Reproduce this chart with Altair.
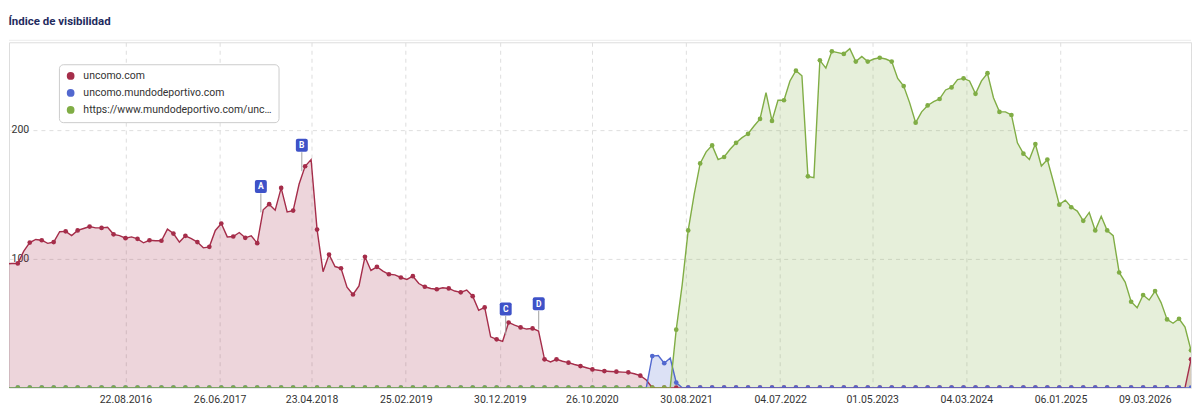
import altair as alt
import pandas as pd

# ---------------- data ----------------
series_names = ["uncomo.com", "uncomo.mundodeportivo.com", "https://www.mundodeportivo.com/uncomo/"]
line_colors = ["#a52d4a", "#5268cf", "#80ad45"]

# sampling dates (evenly spaced readings, every second one carries a marker)
dates = pd.date_range("2015-07-08", "2026-03-09", periods=200)

red_values = [
    86, 96, 96.4, 96.4, 106, 112.6, 115, 114.4, 112, 113,
    121, 121.3, 118, 122, 123.5, 125, 124, 124, 124.5, 119,
    118, 116, 117, 115.5, 112.4, 114.4, 114, 114, 123, 119.6,
    113, 117.8, 115.7, 113, 108.5, 109.3, 122, 127.4, 117, 117.3,
    120.4, 116.3, 117.8, 112.1, 138, 142.4, 137.7, 155, 136.4, 137.4,
    158, 171.8, 177, 122.7, 90, 103.3, 94, 92.7, 78, 72.3,
    79, 101.6, 91, 93.8, 90.4, 88, 87.5, 85.5, 84, 86.5,
    80.8, 78.3, 77, 76.4, 77.5, 77, 75, 74, 75.7, 71,
    60, 62.3, 39.5, 37.5, 36, 50.6, 48.6, 46.8, 45.5, 46,
    44, 22, 20, 22, 20.5, 19.4, 18, 16.8, 15.5, 14.2,
    13.5, 12.9, 12.6, 12.4, 12.1, 11.9, 10.8, 9.3, 6, 0,
    0, 0, 0, 0, 0, 0, 0, 0, 0, 0,
    0, 0, 0, 0, 0, 0, 0, 0, 0, 0,
    0, 0, 0, 0, 0, 0, 0, 0, 0, 0,
    0, 0, 0, 0, 0, 0, 0, 0, 0, 0,
    0, 0, 0, 0, 0, 0, 0, 0, 0, 0,
    0, 0, 0, 0, 0, 0, 0, 0, 0, 0,
    0, 0, 0, 0, 0, 0, 0, 0, 0, 0,
    0, 0, 0, 0, 0, 0, 0, 0, 0, 0,
    0, 0, 0, 0, 0, 0, 0, 0, 0, 22,
]

blue_values = [
    0, 0, 0, 0, 0, 0, 0, 0, 0, 0,
    0, 0, 0, 0, 0, 0, 0, 0, 0, 0,
    0, 0, 0, 0, 0, 0, 0, 0, 0, 0,
    0, 0, 0, 0, 0, 0, 0, 0, 0, 0,
    0, 0, 0, 0, 0, 0, 0, 0, 0, 0,
    0, 0, 0, 0, 0, 0, 0, 0, 0, 0,
    0, 0, 0, 0, 0, 0, 0, 0, 0, 0,
    0, 0, 0, 0, 0, 0, 0, 0, 0, 0,
    0, 0, 0, 0, 0, 0, 0, 0, 0, 0,
    0, 0, 0, 0, 0, 0, 0, 0, 0, 0,
    0, 0, 0, 0, 0, 0, 0, 0, 0, 24.5,
    25, 19, 23, 4, 0, 0, 0, 0, 0, 0,
    0, 0, 0, 0, 0, 0, 0, 0, 0, 0,
    0, 0, 0, 0, 0, 0, 0, 0, 0, 0,
    0, 0, 0, 0, 0, 0, 0, 0, 0, 0,
    0, 0, 0, 0, 0, 0, 0, 0, 0, 0,
    0, 0, 0, 0, 0, 0, 0, 0, 0, 0,
    0, 0, 0, 0, 0, 0, 0, 0, 0, 0,
    0, 0, 0, 0, 0, 0, 0, 0, 0, 0,
    0, 0, 0, 0, 0, 0, 0, 0, 0, 0,
]

green_values = [
    0, 0, 0, 0, 0, 0, 0, 0, 0, 0,
    0, 0, 0, 0, 0, 0, 0, 0, 0, 0,
    0, 0, 0, 0, 0, 0, 0, 0, 0, 0,
    0, 0, 0, 0, 0, 0, 0, 0, 0, 0,
    0, 0, 0, 0, 0, 0, 0, 0, 0, 0,
    0, 0, 0, 0, 0, 0, 0, 0, 0, 0,
    0, 0, 0, 0, 0, 0, 0, 0, 0, 0,
    0, 0, 0, 0, 0, 0, 0, 0, 0, 0,
    0, 0, 0, 0, 0, 0, 0, 0, 0, 0,
    0, 0, 0, 0, 0, 0, 0, 0, 0, 0,
    0, 0, 0, 0, 0, 0, 0, 0, 0, 0,
    0, 0, 0, 45, 80, 122, 150, 174, 183, 188,
    177, 179, 185, 190, 194, 197, 203, 208.5, 229, 207,
    223, 223, 238, 246, 242, 164, 163, 254, 248, 261,
    260, 259, 263, 253, 257, 253, 255, 256, 255, 253,
    240, 234, 221, 205.6, 214, 219, 222, 224, 231, 233,
    239, 240, 238, 228, 238, 244, 225, 214, 214, 211.6,
    190, 181.6, 177, 189, 172, 177, 160, 142, 145.5, 140,
    137, 129.5, 136, 122, 133, 122, 118, 89.4, 82, 66.7,
    62, 71.9, 68, 75, 66, 53, 50, 53.5, 47, 29,
]

tick_dates = ["2016-08-22", "2017-06-26", "2018-04-23", "2019-02-25", "2019-12-30",
              "2020-10-26", "2021-08-30", "2022-07-04", "2023-05-01", "2024-03-04",
              "2025-01-06", "2026-03-09"]
x_start, x_end = "2015-08-07", "2026-03-09"

annot_dates = ["2017-11-08", "2018-03-22", "2020-01-18", "2020-05-05"]
annot_labels = ["A", "B", "C", "D"]
annot_values = [136, 168, 41, 45]

y_ticks = [100, 200]
y_max = 268


# ---------------- tables ----------------
def ms_list(ds):
    return [int(pd.Timestamp(d).value // 10**6) for d in ds]


def ms_one(d):
    return int(pd.Timestamp(d).value // 10**6)


t_ms = ms_list(dates)
rows = []
for name, vals in zip(series_names, [red_values, blue_values, green_values]):
    for i, (t, v) in enumerate(zip(t_ms, vals)):
        rows.append({"t": t, "v": v, "series": name, "dot": i % 2 == 1})
df = pd.DataFrame(rows)

ann = pd.DataFrame({"t": ms_list(annot_dates), "v": annot_values, "label": annot_labels})

FONT = "Roboto"
W, H = 1184, 346

x_enc = alt.X(
    "t:T",
    scale=alt.Scale(type="utc", domain=[ms_one(x_start), ms_one(x_end)]),
    axis=alt.Axis(
        values=ms_list(tick_dates), format="%d.%m.%Y", title=None,
        grid=True, gridDash=[4, 4], gridColor="#dedede", gridWidth=1,
        ticks=False, tickSize=0, domain=False,
        labelFlush=True, labelFlushOffset=-20, labelOverlap=False,
        labelPadding=7, labelFontSize=10.5, labelFont=FONT, labelColor="#333333",
    ),
)
y_enc = alt.Y(
    "v:Q", stack=None,
    scale=alt.Scale(domain=[0, y_max], nice=False, zero=True),
    axis=alt.Axis(
        values=y_ticks, title=None, grid=True, gridDash=[4, 4], gridColor="#dedede",
        ticks=False, tickSize=0, domain=False, labelAlign="left", labelBaseline="middle",
        labelPadding=-2, labelFontSize=10.5, labelFont=FONT, labelColor="#333333",
    ),
)

legend = alt.Legend(
    title=None, orient="none", legendX=50, legendY=22,
    fillColor="white", strokeColor="#cccccc", cornerRadius=4, padding=6.5,
    symbolType="circle", symbolSize=60, symbolStrokeWidth=0, symbolOpacity=1,
    labelFont=FONT, labelFontSize=10.5, labelColor="#333333", labelLimit=194,
    labelOffset=7.5, rowPadding=6,
)
color_enc = alt.Color("series:N", scale=alt.Scale(domain=series_names, range=line_colors),
                      legend=legend)

base = alt.Chart(df)

areas = base.mark_area(clip=True, fillOpacity=0.2, line=False).encode(
    x=x_enc, y=y_enc, color=color_enc, detail="series:N",
)

lines = base.mark_line(clip=True, strokeWidth=1.4).encode(
    x=x_enc, y=y_enc, color=color_enc, detail="series:N",
)

dots = base.transform_filter("datum.dot").mark_circle(clip=True, size=22, opacity=1).encode(
    x=x_enc, y=y_enc, color=color_enc,
)

sep = alt.Chart(pd.DataFrame({"a": [0]})).mark_rule(color="#ececec", strokeWidth=1).encode(
    x=alt.value(0), x2=alt.value(W), y=alt.value(-2)
)

flag_path = ("M -0.62 -1 L 0.62 -1 Q 0.92 -1 0.92 -0.7 L 0.92 0.7 Q 0.92 1 0.62 1 "
             "L -0.62 1 Q -0.92 1 -0.92 0.7 L -0.92 -0.7 Q -0.92 -1 -0.62 -1 Z")

abase = alt.Chart(ann)
stems = abase.mark_rule(color="#a0a0a0", strokeWidth=1, y2Offset=-19).encode(
    x=alt.X("t:T"), y=alt.Y("v:Q"), y2=alt.Y2("v")
)
boxes = abase.mark_point(shape=flag_path, size=169, filled=True, opacity=1,
                         color="#3e52c8", yOffset=-26).encode(
    x=alt.X("t:T"), y=alt.Y("v:Q")
)
letters = abase.mark_text(color="white", fontWeight="bold", fontSize=8.5, font=FONT,
                          baseline="middle", align="center", yOffset=-26).encode(
    x=alt.X("t:T"), y=alt.Y("v:Q"), text="label:N"
)

chart = alt.layer(areas, lines, dots, sep, stems, boxes, letters).properties(
    width=W, height=H,
    padding={"left": 0, "right": 0, "top": 8, "bottom": 0},
    title=alt.TitleParams(
        "Índice de visibilidad", anchor="start", fontSize=11.5, fontWeight="bold",
        color="#1f2b5e", font=FONT, offset=12,
    ),
).configure_view(stroke=None).configure(background="white")

chart.save("out.html", embed_options={"renderer": "svg", "actions": False})
